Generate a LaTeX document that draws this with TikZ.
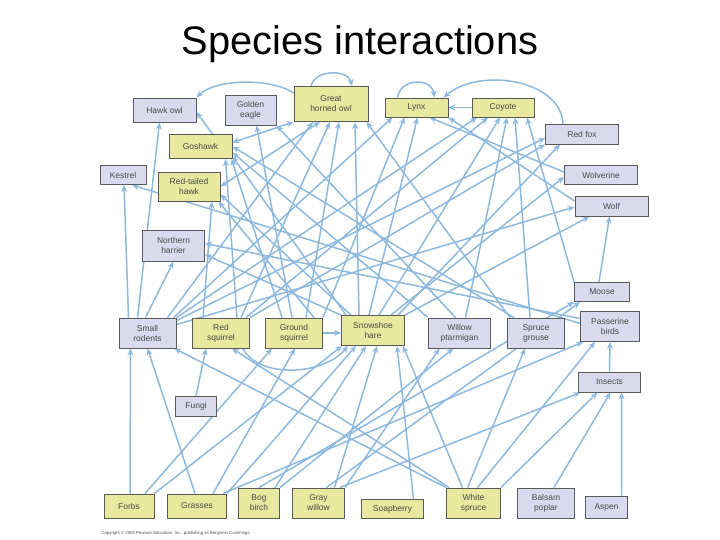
\documentclass[tikz,border=0pt]{standalone}
\usepackage{fontspec}
\setmainfont{Liberation Sans}
\usetikzlibrary{arrows.meta}
\pgfdeclarelayer{edgelayer}
\pgfsetlayers{edgelayer,main}
\definecolor{yel}{HTML}{E8E89E}
\definecolor{lav}{HTML}{DADAEE}
\definecolor{edgeblue}{HTML}{8DB9DE}
\definecolor{boxline}{HTML}{5A5A5A}
\definecolor{txt}{HTML}{4A4A4A}
\tikzset{
 sp/.style={draw=boxline, line width=0.9bp, inner sep=0pt, align=center, text=txt, font=\fontsize{8.5}{10}\selectfont},
 ys/.style={sp, fill=yel},
 ls/.style={sp, fill=lav},
 dim/.style 2 args={minimum width=#1bp, minimum height=#2bp},
 arr/.style={draw=edgeblue, line width=1.5bp, -{Stealth[length=7bp,width=6bp]}},
 dbl/.style={draw=edgeblue, line width=1.5bp, {Stealth[length=7bp,width=6bp]}-{Stealth[length=7bp,width=6bp]}},
}
\begin{document}
\begin{tikzpicture}[x=1bp,y=-1bp]
\useasboundingbox (0,0) rectangle (720,540);
\node[font=\fontsize{40}{48}\selectfont, anchor=base] (title) at (360,55) {Species interactions};
% top predators
\node[ls, dim={63}{24}] (HO) at (164.5,110) {Hawk owl};
\node[ls, dim={51}{30}] (GE) at (250.5,110) {Golden\\eagle};
\node[ys, dim={74}{35}] (GHO) at (331,104) {Great\\horned owl};
\node[ys, dim={63}{19}] (L) at (416.5,107.5) {Lynx};
\node[ys, dim={62}{19}] (C) at (503,107.5) {Coyote};
\node[ls, dim={73}{20}] (RF) at (582,134) {Red fox};
\node[ys, dim={63}{24}] (G) at (200.5,146.5) {Goshawk};
\node[ls, dim={46}{19}] (K) at (123,175) {Kestrel};
\node[ys, dim={62}{29}] (RTH) at (189,186.5) {Red-tailed\\hawk};
\node[ls, dim={73}{19}] (Wv) at (601,175) {Wolverine};
\node[ls, dim={73}{20}] (W) at (611.5,206) {Wolf};
\node[ls, dim={62}{31}] (NH) at (173.5,245.5) {Northern\\harrier};
\node[ls, dim={55}{19}] (M) at (602,292) {Moose};
\node[ls, dim={59}{30}] (PB) at (610,326.5) {Passerine\\birds};
% herbivores
\node[ls, dim={57}{30}] (SR) at (147.5,333) {Small\\rodents};
\node[ys, dim={57}{30}] (RS) at (221,333) {Red\\squirrel};
\node[ys, dim={57}{30}] (GS) at (294,333) {Ground\\squirrel};
\node[ys, dim={63}{30}] (SH) at (373,330.5) {Snowshoe\\hare};
\node[ls, dim={62}{30}] (WP) at (459.5,333) {Willow\\ptarmigan};
\node[ls, dim={57}{30}] (SG) at (536,333) {Spruce\\grouse};
\node[ls, dim={62}{20}] (I) at (609.5,382) {Insects};
\node[ls, dim={41}{20}] (F) at (196,406.5) {Fungi};
% producers
\node[ys, dim={50}{24}] (Fo) at (129,506) {Forbs};
\node[ys, dim={59}{24}] (Gr) at (197,506) {Grasses};
\node[ys, dim={41}{30}] (BB) at (259,503) {Bog\\birch};
\node[ys, dim={52}{30}] (GW) at (318.5,503) {Gray\\willow};
\node[ys, dim={62}{19}] (Sb) at (392.5,509) {Soapberry};
\node[ys, dim={54}{30}] (WS) at (473.5,503) {White\\spruce};
\node[ls, dim={57}{30}] (BP) at (546,503) {Balsam\\poplar};
\node[ls, dim={42}{22}] (A) at (606.5,507) {Aspen};
\node[anchor=west, text=txt, font=\fontsize{4.3}{5}\selectfont] (copy) at (98,533) {Copyright \textcopyright{} 2005 Pearson Education, Inc., publishing as Benjamin Cummings};

\begin{pgfonlayer}{edgelayer}
% producers -> herbivores
\draw[arr] ([xshift=1bp]Fo.north) -- ([xshift=-17bp]SR.south);
\draw[arr] ([xshift=-2bp]Gr.north) -- ([xshift=0bp]SR.south);
\draw[arr] (F.north) -- ([xshift=-15bp]RS.south);
\draw[arr] (WS.north west) -- ([xshift=-2bp]SR.south east);
\draw[arr] ([xshift=3bp]WS.north west) -- ([xshift=11bp]RS.south);
\draw[arr] ([xshift=16bp]Fo.north) -- ([xshift=-22bp]GS.south);
\draw[arr] ([xshift=16bp]Gr.north) -- ([xshift=1bp]GS.south);
\draw[arr] (Fo.north east) -- ([xshift=-31bp]SH.south);
\draw[arr] (Gr.north east) -- ([xshift=-17bp]SH.south);
\draw[arr] ([xshift=16bp]BB.north) -- ([xshift=-7bp]SH.south);
\draw[arr] ([xshift=16bp]GW.north) -- ([xshift=4bp]SH.south);
\draw[arr] (GW.north east) -- ([xshift=-20bp]WP.south);
\draw[arr] ([xshift=21bp]Sb.north) -- ([xshift=24bp]SH.south);
\draw[arr] ([xshift=-11bp]WS.north) -- ([xshift=30bp]SH.south);
\draw[arr] (BB.north east) -- ([xshift=-6bp]WP.south);
\draw[arr] ([xshift=-6bp]WS.north) -- ([xshift=-11bp]SG.south);
\draw[arr] ([xshift=4bp]WS.north) -- ([xshift=-15bp]PB.south);
\draw[arr] ([xshift=-4bp]Gr.north east) -- ([xshift=3bp]PB.south west);
\draw[arr] ([xshift=-5bp]GW.north east) -- ([xshift=-29bp]I.south);
\draw[arr] (WS.north east) -- ([xshift=-12bp]I.south);
\draw[arr] ([xshift=8bp]BP.north) -- ([xshift=1bp]I.south);
\draw[arr] ([xshift=15bp]A.north) -- ([xshift=12bp]I.south);
\draw[arr] (BB.north) -- (M.south west);
\draw[arr] ([xshift=8bp]GW.north) -- ([xshift=6bp]M.south west);
% herbivore interactions
\draw[arr] ([xshift=22bp]RS.south) .. controls +(15,30) and +(-25,30) .. ([xshift=-25bp]SH.south);
\draw[arr] (GS.east) -- (GS.east -| SH.west);
\draw[arr] (I.north) -- (PB.south);
% herbivores -> predators
\draw[arr] ([xshift=-19bp]SR.north) -- ([xshift=1bp]K.south);
\draw[arr] ([xshift=-10bp]SR.north) -- ([xshift=-5bp]HO.south);
\draw[arr] ([xshift=-2bp]SR.north) -- (NH.south);
\draw[arr] ([xshift=20bp]SR.north) -- ([xshift=-18bp]GHO.south);
\draw[arr] ([xshift=-3bp]SR.north east) -- ([xshift=-24bp]L.south);
\draw[arr] (SR.north east) -- ([xshift=-26bp]C.south);
\draw[arr] ([yshift=-3bp]SR.north east) -- ([yshift=-4bp]RF.west);
\draw[arr] ([yshift=-7bp]SR.north east) -- ([yshift=-1bp]W.west);
\draw[arr] ([xshift=-18bp]RS.north) -- ([xshift=23bp]RTH.south);
\draw[arr] ([xshift=16bp]RS.north) -- ([xshift=25bp]G.south);
\draw[arr] ([xshift=20bp]RS.north) -- ([xshift=-1bp]GHO.south);
\draw[arr] (RS.north east) -- (RF.south west);
\draw[arr] ([xshift=-4bp]RS.north east) -- ([xshift=-15bp]C.south);
\draw[arr] ([xshift=-2bp]GS.north) -- ([xshift=6bp]GE.south);
\draw[arr] ([xshift=20bp]GS.north) -- ([xshift=-2bp]RTH.south east);
\draw[arr] ([xshift=12bp]GS.north) -- ([xshift=8bp]GHO.south);
\draw[arr] ([xshift=-12bp]GS.north) -- ([xshift=-1bp]G.south east);
\draw[arr] (GS.north east) -- ([xshift=-12bp]L.south);
\draw[arr] ([xshift=-4bp]SH.north) -- ([xshift=1bp]L.south);
\draw[arr] ([xshift=-14bp]SH.north) -- ([xshift=24bp]GHO.south);
\draw[arr] ([xshift=25bp]SH.north) -- ([xshift=-22bp]RF.south);
\draw[arr] ([xshift=18bp]SH.north) -- ([yshift=-2bp]Wv.west);
\draw[arr] (SH.north east) -- ([xshift=15bp]W.south west);
\draw[arr] ([xshift=6bp]SH.north) -- ([xshift=-3bp]C.south);
\draw[arr] (SH.north west) -- ([yshift=-9bp]NH.east);
\draw[arr] ([xshift=5bp]SH.north west) -- ([yshift=-10bp]G.east);
\draw[arr] ([xshift=-22bp]SH.north) -- ([yshift=-8bp]RTH.east);
\draw[arr] ([xshift=-4bp]WP.north) -- (GE.south east);
\draw[arr] (WP.north west) -- ([yshift=-6bp]G.east);
\draw[arr] ([xshift=6bp]WP.north) -- ([xshift=4bp]C.south);
\draw[arr] ([xshift=-26bp]SG.north) -- ([xshift=-2bp]GHO.south east);
\draw[arr] ([xshift=-22bp]SG.north) -- ([yshift=0bp]G.east);
\draw[arr] ([xshift=-6bp]SG.north) -- ([xshift=12bp]C.south);
\draw[arr] (M.north west) -- ([xshift=24bp]C.south);
\draw[arr] ([xshift=-3bp]M.north) -- ([xshift=-2bp]W.south);
\draw[arr] ([yshift=3bp]PB.west) -- ([xshift=9bp]K.south);
\draw[arr] ([yshift=8bp]PB.west) -- ([yshift=2bp]NH.east);
% predator interactions
\draw[dbl] ([yshift=4bp]G.east) -- (GHO.south west);
\draw[arr] ([xshift=12bp]G.north) -- ([yshift=-2bp]HO.east);
\draw[arr] ([yshift=11bp]GHO.west) .. controls +(-24,-16) and +(18,-18) .. (HO.north east);
\draw[arr] ([xshift=-20bp]GHO.north) .. controls +(4,-17) and +(-4,-17) .. ([xshift=21bp]GHO.north);
\draw[arr] ([xshift=-19bp]L.north) .. controls +(3,-20) and +(-3,-20) .. ([xshift=18bp]L.north);
\draw[arr] (C.west) -- (L.east);
\draw[arr] ([xshift=-19bp]RF.north) .. controls +(-3,-45) and +(35,-30) .. ([xshift=27bp]L.north);
\draw[arr] ([yshift=3bp]Wv.west) -- ([xshift=13bp]L.south);
\draw[arr] ([yshift=5bp]W.west) -- (L.south east);
\draw[dbl] (RTH.east) -- ([xshift=-11bp]GHO.south);
\end{pgfonlayer}
\end{tikzpicture}
\end{document}
